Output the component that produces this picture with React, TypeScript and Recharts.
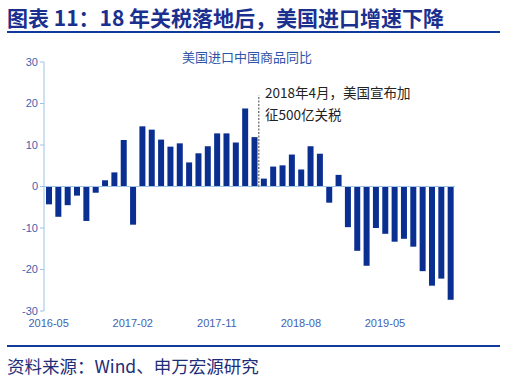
import React from 'react'
import { BarChart, Bar, XAxis, YAxis, ReferenceLine } from 'recharts'

const months = [
  '2016-05', '2016-06', '2016-07', '2016-08', '2016-09', '2016-10', '2016-11', '2016-12',
  '2017-01', '2017-02', '2017-03', '2017-04', '2017-05', '2017-06', '2017-07', '2017-08',
  '2017-09', '2017-10', '2017-11', '2017-12', '2018-01', '2018-02', '2018-03', '2018-04',
  '2018-05', '2018-06', '2018-07', '2018-08', '2018-09', '2018-10', '2018-11', '2018-12',
  '2019-01', '2019-02', '2019-03', '2019-04', '2019-05', '2019-06', '2019-07', '2019-08',
  '2019-09', '2019-10', '2019-11', '2019-12',
]

// 美国进口中国商品同比 (%)
const yoy = [
  -4.3, -7.3, -4.5, -2.2, -8.3, -1.5, 1.5, 3.4,
  11.2, -9.2, 14.5, 13.7, 11.3, 9.6, 10.4, 5.8,
  8.0, 9.7, 12.8, 12.8, 10.6, 18.8, 11.9, 1.9,
  4.8, 5.1, 7.7, 4.1, 9.7, 7.9, -3.9, 2.8,
  -9.8, -15.5, -19.1, -10.0, -11.4, -13.3, -12.6, -14.5,
  -20.4, -23.9, -22.2, -27.3,
]

const yTicks = [-30, -20, -10, 0, 10, 20, 30]

const data = months.map((m, i) => ({ month: m, value: yoy[i] }))

const AXIS_BLUE = '#9dc3e6'
const LABEL_BLUE = '#3f62b0'
const BAR_BLUE = '#0b2f91'
const TITLE_BLUE = '#1b2f8f'

export default function App() {
  return (
    <div style={{ position: 'absolute', left: 0, top: 0, width: 506, height: 379, background: '#fff', fontFamily: '"Noto Sans CJK SC", "Liberation Sans", sans-serif' }}>
      <div style={{ position: 'absolute', left: 7, top: 4, fontSize: 21, fontWeight: 700, color: TITLE_BLUE, lineHeight: '26px', whiteSpace: 'nowrap' }}>
        图表 11：18 年关税落地后，美国进口增速下降
      </div>
      <div style={{ position: 'absolute', left: 7, top: 31, width: 493, height: 2, background: '#103a9c' }} />

      <BarChart
        width={506}
        height={379}
        data={data}
        margin={{ top: 62, right: 51, left: 0, bottom: 48 }}
        barSize={6}
        style={{ position: 'absolute', left: 0, top: 0 }}
      >
        <XAxis
          dataKey="month"
          interval={8}
          height={20}
          axisLine={false}
          tickLine={false}
          tick={{ fontSize: 11, fill: LABEL_BLUE, fontFamily: '"Liberation Sans", Arial, sans-serif' }}
        />
        <YAxis
          domain={[-30, 30]}
          ticks={yTicks}
          width={44}
          tickSize={4}
          axisLine={{ stroke: AXIS_BLUE }}
          tickLine={{ stroke: AXIS_BLUE }}
          tick={{ fontSize: 11, fill: LABEL_BLUE, fontFamily: '"Liberation Sans", Arial, sans-serif' }}
        />
        <ReferenceLine y={0} stroke={AXIS_BLUE} strokeWidth={1} />
        <Bar dataKey="value" fill={BAR_BLUE} isAnimationActive={false} />
        <ReferenceLine
          segment={[{ x: '2018-04', y: 0 }, { x: '2018-04', y: 22 }]}
          position="start"
          stroke="#444"
          strokeDasharray="2 1.5"
          strokeWidth={1}
        />
      </BarChart>

      <div style={{ position: 'absolute', left: 182, top: 47, fontSize: 13, color: '#2d55a8', whiteSpace: 'nowrap' }}>
        美国进口中国商品同比
      </div>
      <div style={{ position: 'absolute', left: 265, top: 81, fontSize: 13.5, color: '#222', lineHeight: '22px', whiteSpace: 'nowrap' }}>
        2018年4月，美国宣布加
        <br />
        征500亿关税
      </div>

      <div style={{ position: 'absolute', left: 7, top: 345, width: 493, height: 2, background: '#103a9c' }} />
      <div style={{ position: 'absolute', left: 7, top: 354, fontSize: 17.5, color: '#1f2d78', lineHeight: '24px', whiteSpace: 'nowrap' }}>
        资料来源：Wind、申万宏源研究
      </div>
    </div>
  )
}
